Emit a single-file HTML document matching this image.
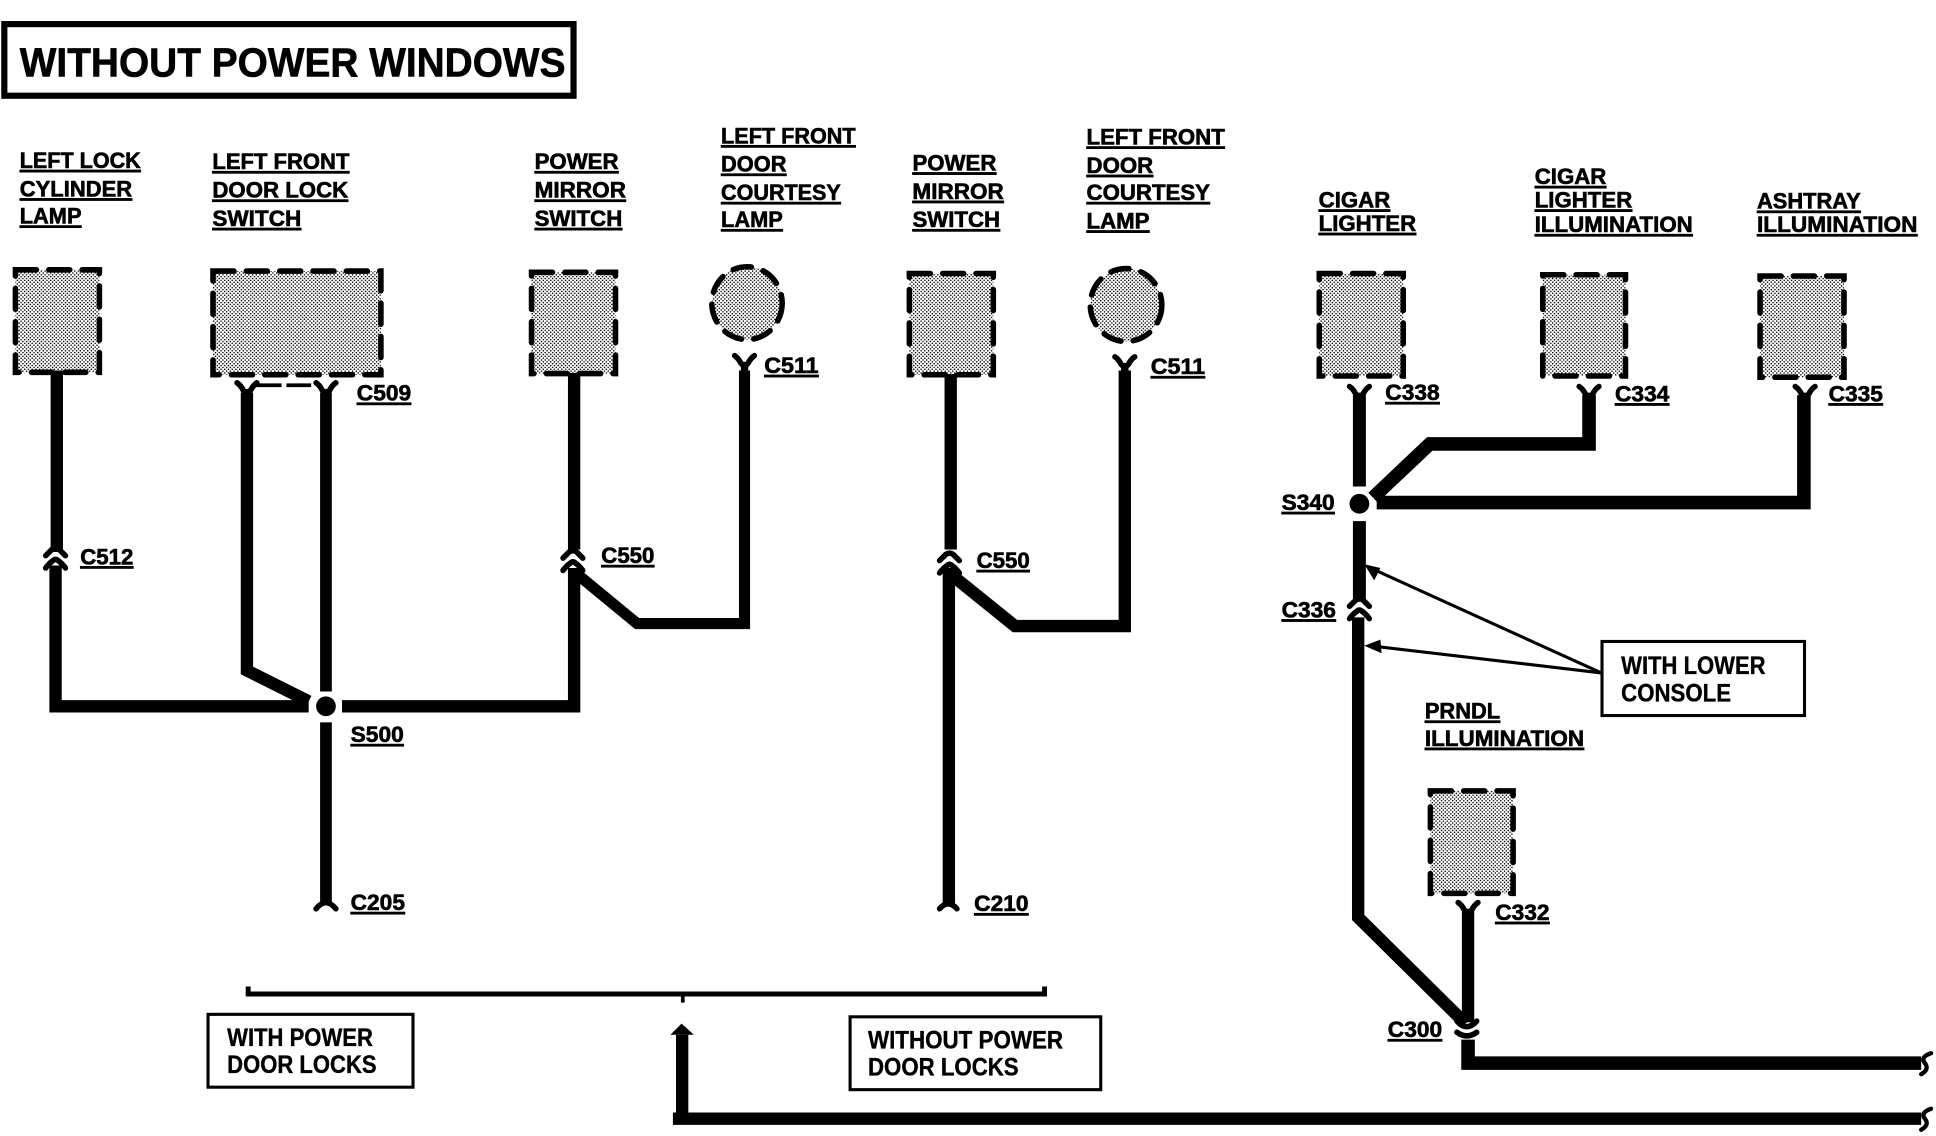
<!DOCTYPE html>
<html lang="en">
<head>
<meta charset="utf-8">
<title>Without Power Windows</title>
<style>
html,body{margin:0;padding:0;background:#fff}
svg{display:block}
text{font-family:"Liberation Sans",Arial,sans-serif;font-weight:bold;fill:#000;stroke:#000;stroke-width:.5}
.u{font-size:18px;text-decoration:underline}
.b{font-size:20px;stroke-width:.3}
.w{fill:none;stroke:#000;stroke-width:10;stroke-linejoin:miter;stroke-linecap:butt}
.d{fill:none;stroke:#000;stroke-width:4.5;stroke-dasharray:17 10;stroke-linecap:round}
.f{fill:url(#st);stroke:none}
.c{fill:none;stroke:#000;stroke-width:4.5;stroke-linecap:round}
</style>
</head>
<body>
<svg xmlns="http://www.w3.org/2000/svg" width="1936" height="1136" viewBox="0 0 1568 920">
<defs>
<pattern id="st" patternUnits="userSpaceOnUse" width="3" height="3">
<rect width="3" height="3" fill="#fff"/>
<rect x="0" y="0" width="1.1" height="1.1" fill="#000"/>
<rect x="1.5" y="1.5" width="1.1" height="1.1" fill="#000"/>
</pattern>
<g id="y"><path class="c" d="M-8,-5 Q-5,-3 -3,1 L0,4 L3,1 Q5,-3 8,-5"/><rect x="-3" y="0" width="6" height="7"/></g>
<g id="cap"><path class="c" d="M-8,-1 Q-5,-4 -3,-6 Q0,-8 3,-6 Q5,-4 8,-1"/><path class="c" d="M-8,9 Q-5,5 -2,3 Q0,1 2,3 Q5,5 8,9"/></g>
</defs>
<rect width="1568" height="920" fill="#fff"/>

<!-- Title -->
<rect x="3.5" y="19.5" width="461" height="58" fill="#fff" stroke="#000" stroke-width="5"/>
<text x="16" y="62" font-size="33" textLength="442" lengthAdjust="spacingAndGlyphs">WITHOUT POWER WINDOWS</text>

<!-- Component labels -->
<g>
<text class="u" x="16" y="136" textLength="98" lengthAdjust="spacingAndGlyphs">LEFT LOCK</text>
<text class="u" x="16" y="159" textLength="91" lengthAdjust="spacingAndGlyphs">CYLINDER</text>
<text class="u" x="16" y="181" textLength="50" lengthAdjust="spacingAndGlyphs">LAMP</text>
<text class="u" x="172" y="137" textLength="111" lengthAdjust="spacingAndGlyphs">LEFT FRONT</text>
<text class="u" x="172" y="160" textLength="110" lengthAdjust="spacingAndGlyphs">DOOR LOCK</text>
<text class="u" x="172" y="183" textLength="72" lengthAdjust="spacingAndGlyphs">SWITCH</text>
<text class="u" x="433" y="137" textLength="68" lengthAdjust="spacingAndGlyphs">POWER</text>
<text class="u" x="433" y="160" textLength="74" lengthAdjust="spacingAndGlyphs">MIRROR</text>
<text class="u" x="433" y="183" textLength="71" lengthAdjust="spacingAndGlyphs">SWITCH</text>
<text class="u" x="584" y="116" textLength="109" lengthAdjust="spacingAndGlyphs">LEFT FRONT</text>
<text class="u" x="584" y="139" textLength="53" lengthAdjust="spacingAndGlyphs">DOOR</text>
<text class="u" x="584" y="162" textLength="97" lengthAdjust="spacingAndGlyphs">COURTESY</text>
<text class="u" x="584" y="184" textLength="50" lengthAdjust="spacingAndGlyphs">LAMP</text>
<text class="u" x="739" y="138" textLength="68" lengthAdjust="spacingAndGlyphs">POWER</text>
<text class="u" x="739" y="161" textLength="74" lengthAdjust="spacingAndGlyphs">MIRROR</text>
<text class="u" x="739" y="184" textLength="71" lengthAdjust="spacingAndGlyphs">SWITCH</text>
<text class="u" x="880" y="117" textLength="112" lengthAdjust="spacingAndGlyphs">LEFT FRONT</text>
<text class="u" x="880" y="140" textLength="54" lengthAdjust="spacingAndGlyphs">DOOR</text>
<text class="u" x="880" y="162" textLength="100" lengthAdjust="spacingAndGlyphs">COURTESY</text>
<text class="u" x="880" y="185" textLength="51" lengthAdjust="spacingAndGlyphs">LAMP</text>
<text class="u" x="1068" y="168" textLength="58" lengthAdjust="spacingAndGlyphs">CIGAR</text>
<text class="u" x="1068" y="187" textLength="79" lengthAdjust="spacingAndGlyphs">LIGHTER</text>
<text class="u" x="1243" y="149" textLength="58" lengthAdjust="spacingAndGlyphs">CIGAR</text>
<text class="u" x="1243" y="168" textLength="79" lengthAdjust="spacingAndGlyphs">LIGHTER</text>
<text class="u" x="1243" y="188" textLength="128" lengthAdjust="spacingAndGlyphs">ILLUMINATION</text>
<text class="u" x="1423" y="169" textLength="84" lengthAdjust="spacingAndGlyphs">ASHTRAY</text>
<text class="u" x="1423" y="188" textLength="130" lengthAdjust="spacingAndGlyphs">ILLUMINATION</text>
<text class="u" x="1154" y="582" textLength="61" lengthAdjust="spacingAndGlyphs">PRNDL</text>
<text class="u" x="1154" y="604" textLength="129" lengthAdjust="spacingAndGlyphs">ILLUMINATION</text>
</g>

<!-- Components -->
<rect class="f" x="12.5" y="218.5" width="68" height="83"/><rect class="d" x="12.5" y="218.5" width="68" height="83"/>
<rect class="f" x="172.5" y="219.5" width="136" height="84"/><rect class="d" x="172.5" y="219.5" width="136" height="84"/>
<rect class="f" x="430.5" y="220.5" width="68" height="82"/><rect class="d" x="430.5" y="220.5" width="68" height="82"/>
<ellipse class="f" cx="605" cy="245.5" rx="28.5" ry="29.5"/><ellipse class="d" cx="605" cy="245.5" rx="28.5" ry="29.5" style="stroke-dasharray:15 10"/>
<rect class="f" x="736.5" y="221.5" width="68" height="82"/><rect class="d" x="736.5" y="221.5" width="68" height="82"/>
<ellipse class="f" cx="912" cy="247" rx="29" ry="29.5"/><ellipse class="d" cx="912" cy="247" rx="29" ry="29.5" style="stroke-dasharray:15 10"/>
<rect class="f" x="1068.5" y="221.5" width="68" height="83"/><rect class="d" x="1068.5" y="221.5" width="68" height="83"/>
<rect class="f" x="1249.5" y="222.5" width="67" height="82"/><rect class="d" x="1249.5" y="222.5" width="67" height="82"/>
<rect class="f" x="1425.5" y="223.5" width="68" height="82"/><rect class="d" x="1425.5" y="223.5" width="68" height="82"/>
<rect class="f" x="1158.5" y="640.5" width="67" height="83"/><rect class="d" x="1158.5" y="640.5" width="67" height="83"/>

<!-- Wires: left -->
<path class="w" d="M46,300V447"/>
<path class="w" d="M45,458V572H250"/>
<path class="w" d="M200,318V543L250,568"/>
<path class="w" d="M264,318V560" style="stroke-width:9.5"/>
<path class="w" d="M264,585V730" style="stroke-width:9.5"/>
<path class="w" d="M277,572H465V460"/>
<path class="w" d="M465,302V445"/>
<path class="w" d="M465,463L516,505H603V300" style="stroke-width:9"/>
<path class="w" d="M770,303V445"/>
<path class="w" d="M768.5,460V732"/>
<path class="w" d="M770,465L822,507H911V300"/>
<circle cx="264" cy="572" r="8"/>

<!-- Wires: right -->
<path class="w" d="M1101,320V394" style="stroke-width:10.5"/>
<path class="w" d="M1101,422V486" style="stroke-width:10.5"/>
<path class="w" d="M1100,500V743L1187,829"/>
<path class="w" d="M1112,403L1158,359.500H1287V320" style="stroke-width:11"/>
<path class="w" d="M1115,407H1461V320" style="stroke-width:11"/>
<path class="w" d="M1189,738V828"/>
<path class="w" d="M1189,842V861H1556" style="stroke-width:11"/>
<path class="w" d="M552.500,838V906" style="stroke-width:10"/>
<path class="w" d="M545,906H1556" style="stroke-width:10"/>
<circle cx="1101" cy="408" r="8"/>

<!-- Connectors -->
<use href="#y" x="200" y="315"/>
<use href="#y" x="264" y="315"/>
<path d="M207,312H228M232,312H252" stroke="#000" stroke-width="3" fill="none"/>
<use href="#y" x="603" y="293"/>
<use href="#y" x="911" y="294"/>
<use href="#y" x="1101" y="318"/>
<use href="#y" x="1287" y="318"/>
<use href="#y" x="1462" y="318"/>
<use href="#y" x="1189" y="736"/>
<use href="#cap" x="45" y="451"/>
<use href="#cap" x="464" y="453"/>
<use href="#cap" x="769" y="455"/>
<use href="#cap" x="1101" y="492"/>
<path class="c" d="M256,736Q264,726 272,736"/>
<path class="c" d="M761,736Q768,728 775,736"/>
<path class="c" d="M1180,827Q1188,836 1196,827"/>
<path class="c" d="M1180,836Q1188,842 1196,836"/>
<path d="M543,838L552,829L562,838Z"/>

<!-- End breaks -->
<path class="c" style="stroke-width:3.5" d="M1564,853Q1555,856 1559,861Q1563,866 1556,870"/>
<path class="c" style="stroke-width:3.5" d="M1564,898Q1555,901 1559,906Q1563,911 1556,915"/>

<!-- Bracket -->
<path d="M201,799V805H846V799" fill="none" stroke="#000" stroke-width="4"/>
<path d="M553,805V812" stroke="#000" stroke-width="3"/>

<!-- Note boxes -->
<rect x="1297.5" y="519.5" width="164" height="60" fill="#fff" stroke="#000" stroke-width="2.5"/>
<text class="b" x="1313" y="546" textLength="117" lengthAdjust="spacingAndGlyphs">WITH LOWER</text>
<text class="b" x="1313" y="568" textLength="89" lengthAdjust="spacingAndGlyphs">CONSOLE</text>
<path d="M1297,545L1110,460M1297,545L1110,523" stroke="#000" stroke-width="2.5" fill="none"/>
<path d="M1105,457L1118,460L1113,470Z"/>
<path d="M1105,523L1118,518L1119,529Z"/>

<rect x="168.5" y="821.5" width="166" height="59" fill="#fff" stroke="#000" stroke-width="2.5"/>
<text class="b" x="184" y="847" textLength="118" lengthAdjust="spacingAndGlyphs">WITH POWER</text>
<text class="b" x="184" y="869" textLength="121" lengthAdjust="spacingAndGlyphs">DOOR LOCKS</text>

<rect x="688.5" y="823.5" width="203" height="59" fill="#fff" stroke="#000" stroke-width="2.5"/>
<text class="b" x="703" y="849" textLength="158" lengthAdjust="spacingAndGlyphs">WITHOUT POWER</text>
<text class="b" x="703" y="871" textLength="122" lengthAdjust="spacingAndGlyphs">DOOR LOCKS</text>

<!-- Connector labels -->
<text class="u" x="289" y="324.500" textLength="44" lengthAdjust="spacingAndGlyphs">C509</text>
<text class="u" x="65" y="457" textLength="43" lengthAdjust="spacingAndGlyphs">C512</text>
<text class="u" x="487" y="456" textLength="43" lengthAdjust="spacingAndGlyphs">C550</text>
<text class="u" x="619" y="302" textLength="44" lengthAdjust="spacingAndGlyphs">C511</text>
<text class="u" x="791" y="460" textLength="43" lengthAdjust="spacingAndGlyphs">C550</text>
<text class="u" x="932" y="303" textLength="44" lengthAdjust="spacingAndGlyphs">C511</text>
<text class="u" x="1122" y="324" textLength="44" lengthAdjust="spacingAndGlyphs">C338</text>
<text class="u" x="1308" y="325" textLength="44" lengthAdjust="spacingAndGlyphs">C334</text>
<text class="u" x="1481" y="325" textLength="44" lengthAdjust="spacingAndGlyphs">C335</text>
<text class="u" x="1038" y="413" textLength="43" lengthAdjust="spacingAndGlyphs">S340</text>
<text class="u" x="1038" y="500" textLength="44" lengthAdjust="spacingAndGlyphs">C336</text>
<text class="u" x="1211" y="745" textLength="44" lengthAdjust="spacingAndGlyphs">C332</text>
<text class="u" x="1124" y="840" textLength="44" lengthAdjust="spacingAndGlyphs">C300</text>
<text class="u" x="284" y="601" textLength="43" lengthAdjust="spacingAndGlyphs">S500</text>
<text class="u" x="284" y="737" textLength="44" lengthAdjust="spacingAndGlyphs">C205</text>
<text class="u" x="789" y="738" textLength="44" lengthAdjust="spacingAndGlyphs">C210</text>
</svg>
</body>
</html>
